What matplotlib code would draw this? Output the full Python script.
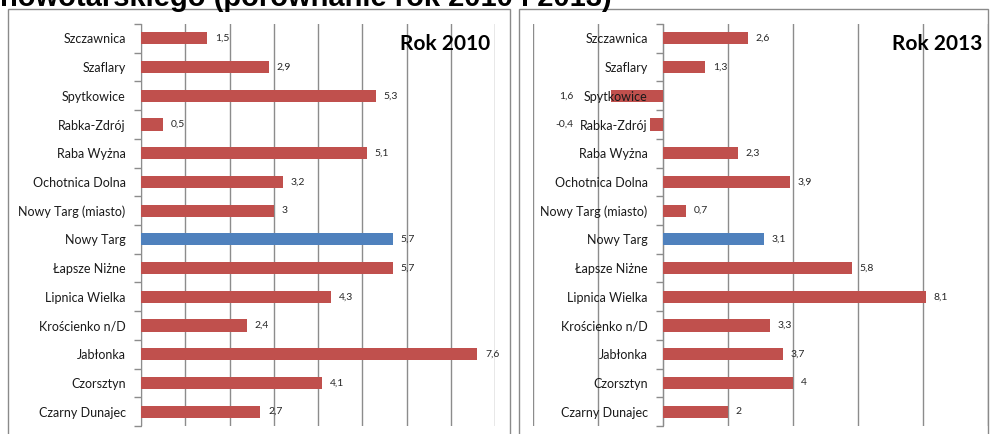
import matplotlib
matplotlib.use("Agg")
import matplotlib.pyplot as plt
from matplotlib.patches import Rectangle

categories = ["Szczawnica", "Szaflary", "Spytkowice", "Rabka-Zdrój", "Raba Wyżna",
              "Ochotnica Dolna", "Nowy Targ (miasto)", "Nowy Targ", "Łapsze Niżne",
              "Lipnica Wielka", "Krościenko n/D", "Jabłonka", "Czorsztyn", "Czarny Dunajec"]
values_2010 = [1.5, 2.9, 5.3, 0.5, 5.1, 3.2, 3.0, 5.7, 5.7, 4.3, 2.4, 7.6, 4.1, 2.7]
labels_2010 = ["1,5", "2,9", "5,3", "0,5", "5,1", "3,2", "3", "5,7", "5,7", "4,3", "2,4", "7,6", "4,1", "2,7"]
values_2013 = [2.6, 1.3, -1.6, -0.4, 2.3, 3.9, 0.7, 3.1, 5.8, 8.1, 3.3, 3.7, 4.0, 2.0]
labels_2013 = ["2,6", "1,3", "1,6", "-0,4", "2,3", "3,9", "0,7", "3,1", "5,8", "8,1", "3,3", "3,7", "4", "2"]
highlight = "Nowy Targ"
title = "nowotarskiego (porównanie rok 2010 i 2013)"
panel_titles = ["Rok 2010", "Rok 2013"]

RED = "#C0504D"
BLUE = "#4F81BD"
GRID = "#8C8C8C"

W, H = 992, 434
fig = plt.figure(figsize=(W / 100, H / 100), dpi=100)
fig.patch.set_facecolor("white")

def fx(px):
    return px / W

def fy(py):
    return 1 - py / H

# panel frames
for x0, x1 in [(8, 510), (519, 988)]:
    fig.patches.append(Rectangle((fx(x0), fy(460)), fx(x1 - x0), (460 - 9) / H,
                                 transform=fig.transFigure, fill=False,
                                 edgecolor="#8A8A8A", linewidth=1.0, zorder=0))

fig.text(fx(0), fy(6), title, fontsize=21, fontweight="bold",
         family="Liberation Sans", ha="left", va="baseline", color="black")

def panel(rect, values, labels, xlim, step, ptitle, title_x):
    ax = fig.add_axes(rect)
    n = len(categories)
    pos = list(range(n))
    colors = [BLUE if c == highlight else RED for c in categories]
    ax.barh(pos, values, height=0.42, color=colors, zorder=2)
    ax.set_ylim(n - 0.5, -0.5)
    ax.set_xlim(*xlim)
    ticks = []
    t = xlim[0]
    while t <= xlim[1] + 1e-9:
        ticks.append(t)
        t += step
    ax.set_xticks(ticks)
    ax.set_xticklabels([])
    ax.tick_params(axis="x", length=0)
    ax.grid(axis="x", color=GRID, linewidth=1.0)
    ax.xaxis.set_zorder(0.5)
    ax.yaxis.set_zorder(5)
    for s in ["top", "right", "bottom"]:
        ax.spines[s].set_visible(False)
    ax.spines["left"].set_position(("data", 0))
    ax.spines["left"].set_color(GRID)
    ax.spines["left"].set_zorder(1)
    ax.set_yticks([p for p in pos])
    ax.set_yticklabels(categories, fontsize=9, family="Lato", color="#1a1a1a")
    ax.set_yticks([p - 0.5 for p in pos] + [n - 0.5], minor=True)
    ax.tick_params(axis="y", which="major", length=0, pad=11)
    ax.tick_params(axis="y", which="minor", length=5, color=GRID, width=1)
    for p, v, lab in zip(pos, values, labels):
        if v >= 0:
            ax.annotate(lab, (v, p), xytext=(5.5, 0), textcoords="offset points",
                        ha="left", va="center", fontsize=7.5, family="Lato", color="#262626")
        else:
            ax.text(-2.75, p, lab, ha="right", va="center", fontsize=7.5,
                    family="Lato", color="#262626")
    fig.text(fx(title_x), fy(44), ptitle, fontsize=15, fontweight="bold",
             family="Lato", ha="right", va="center", color="black")
    ax.set_facecolor("none")
    return ax

ax_h = (426 - 24) / H
panel([fx(141), fy(426), fx(495 - 141), ax_h], values_2010, labels_2010, (0, 8), 1,
      panel_titles[0], 490)
panel([fx(533), fy(426), fx(988 - 533), ax_h], values_2013, labels_2013, (-4, 10), 2,
      panel_titles[1], 982)

fig.savefig("out.png", dpi=100)
